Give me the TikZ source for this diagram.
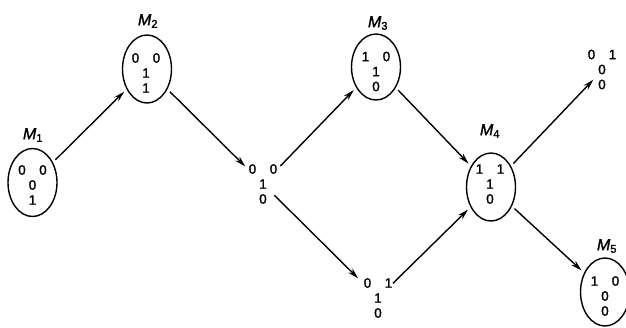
\documentclass[tikz,border=0pt]{standalone}
\usepackage{fontspec}
\setmainfont{Liberation Sans}
\newfontfamily\digfont{Liberation Sans}[FakeBold=1.6]
\usetikzlibrary{arrows.meta,shapes.geometric}
\newcommand\digblock[7]{%
  \node[dig] (#1-a) at ({#2-10.5},{#3-15}) {#4};
  \node[dig] (#1-b) at ({#2+10.5},{#3-15}) {#5};
  \node[dig] (#1-c) at (#2,#3) {#6};
  \node[dig] (#1-d) at (#2,{#3+15}) {#7};
}
\begin{document}
\begin{tikzpicture}[x=1pt,y=-1pt,
  dig/.style={font=\digfont\fontsize{13.5}{13.5}\selectfont, inner sep=0pt},
  mlab/.style={font=\digfont\fontsize{16}{16}\selectfont\itshape, inner sep=0pt},
  mell/.style={draw, ellipse, line width=1.4pt, inner sep=0pt, outer sep=4pt,
    minimum width=49pt, minimum height=68pt},
  hub/.style={circle, inner sep=0pt, minimum size=0pt, outer sep=0pt},
  arr/.style={-{Stealth[length=11pt,width=6pt]}, line width=1.4pt}]
\useasboundingbox (0,0) rectangle (626,327);
\clip (0,0) rectangle (626,327);
% state ellipses
\node[mell] (M1) at (32.5,182.5) {};
\node[mell] (M2) at (147,69) {};
\node[mell, minimum height=66pt] (M3) at (376,67) {};
\node[mell] (M4) at (491,187) {};
\node[mell] (M5) at (605,292) {};
% unlabelled markings
\node[hub] (n00) at (263,184) {};
\node[hub] (n01) at (378,298) {};
\node[hub] (TR) at (603,69.5) {};
% labels
\node[mlab] (L1) at (33,135) {M\textsubscript{\upshape 1}};
\node[mlab] (L2) at (148,21) {M\textsubscript{\upshape 2}};
\node[mlab] (L3) at (378,23) {M\textsubscript{\upshape 3}};
\node[mlab] (L4) at (490,131) {M\textsubscript{\upshape 4}};
\node[mlab] (L5) at (607,246) {M\textsubscript{\upshape 5}};
% digits
\digblock{D1}{32.5}{185}{0}{0}{0}{1}
\digblock{D2}{146}{73}{0}{0}{1}{1}
\digblock{D00}{263}{184}{0}{0}{1}{0}
\digblock{D3}{376}{71.5}{1}{0}{1}{0}
\digblock{D01}{378}{298}{0}{1}{1}{0}
\digblock{D4}{490}{184}{1}{1}{1}{0}
\digblock{DTR}{602}{69.5}{0}{1}{0}{0}
\digblock{D5}{605}{296}{1}{0}{0}{0}
% arcs
\draw[arr] (M1) -- (M2);
\draw[arr, shorten >=25pt] (M2) -- (n00);
\draw[arr, shorten <=25pt] (n00) -- (M3);
\draw[arr, shorten <=16pt, shorten >=28pt] (n00) -- (n01);
\draw[arr] (M3) -- (M4);
\draw[arr, shorten <=21pt] (n01) -- (M4);
\draw[arr, shorten >=14pt] (M4) -- (TR);
\draw[arr] (M4) -- (M5);
\end{tikzpicture}
\end{document}
